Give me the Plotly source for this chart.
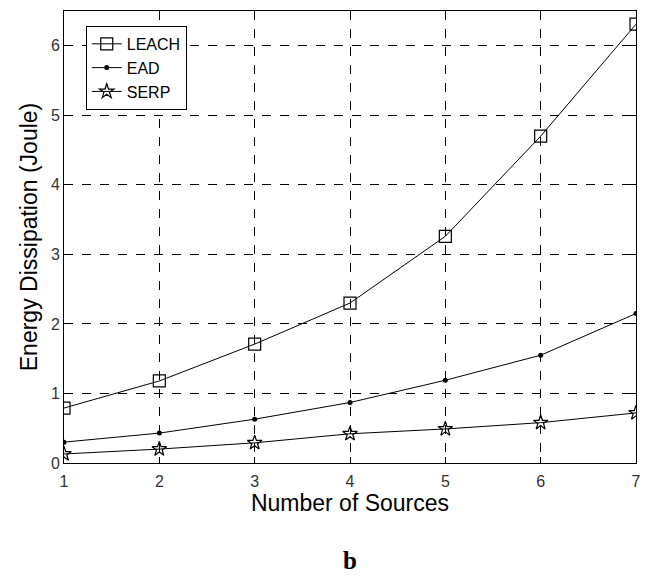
import plotly.graph_objects as go

sources = [1, 2, 3, 4, 5, 6, 7]
leach = [0.79, 1.18, 1.71, 2.30, 3.26, 4.70, 6.31]
ead = [0.30, 0.43, 0.63, 0.87, 1.19, 1.55, 2.15]
serp = [0.13, 0.20, 0.29, 0.42, 0.49, 0.58, 0.72]

x_ticks = [1, 2, 3, 4, 5, 6, 7]
y_ticks = [0, 1, 2, 3, 4, 5, 6]

font_family = "Liberation Sans, Arial, sans-serif"
line_style = dict(color="black", width=1)

fig = go.Figure()
fig.add_trace(go.Scatter(
    x=sources, y=leach, name="LEACH", mode="lines+markers",
    line=line_style,
    marker=dict(symbol="square-open", size=12, color="black", line=dict(width=1.2)),
))
fig.add_trace(go.Scatter(
    x=sources, y=ead, name="EAD", mode="lines+markers",
    line=line_style,
    marker=dict(symbol="circle", size=5, color="black"),
))
fig.add_trace(go.Scatter(
    x=sources, y=serp, name="SERP", mode="lines+markers",
    line=line_style,
    marker=dict(symbol="star-open", size=11, color="black", line=dict(width=1.2)),
))

axis_common = dict(
    showline=True, linecolor="black", linewidth=1, mirror="ticks",
    ticks="inside", ticklen=6, tickcolor="black",
    showgrid=True, gridcolor="black", griddash="dash", gridwidth=1,
    zeroline=False,
    tickfont=dict(family=font_family, size=16, color="#333333"),
)

fig.update_layout(
    width=651, height=576,
    margin=dict(l=64, r=13, t=10, b=113),
    paper_bgcolor="white", plot_bgcolor="white",
    font=dict(family=font_family, color="black"),
    xaxis=dict(
        range=[1, 7], tickvals=x_ticks, ticklabelstandoff=4, **axis_common,
        title=dict(text="Number of Sources", font=dict(size=23, color="black"), standoff=4),
    ),
    yaxis=dict(
        range=[0, 6.5], tickvals=y_ticks, **axis_common,
        title=dict(text="Energy Dissipation (Joule)", font=dict(size=23, color="black"), standoff=6),
    ),
    legend=dict(
        x=0.038, y=0.967, xanchor="left", yanchor="top",
        bgcolor="white", bordercolor="black", borderwidth=1,
        font=dict(family=font_family, size=16, color="black"),
        tracegroupgap=0, itemwidth=30, entrywidth=85,
    ),
    annotations=[dict(
        text="<b>b</b>", x=0.5, xref="paper", yref="paper",
        showarrow=False, yanchor="middle",
        y=-(561 - 463) / (463 - 10),
        font=dict(family="Liberation Serif, Times New Roman, serif", size=25, color="black"),
    )],
)

fig.write_html("out.html")
